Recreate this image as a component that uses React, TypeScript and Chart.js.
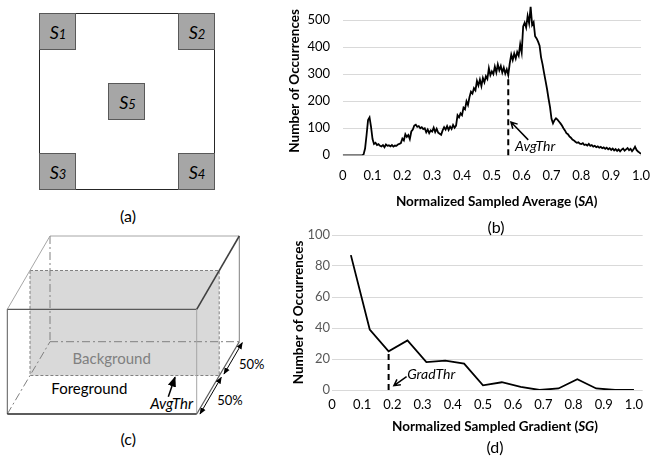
import React, { useEffect, useRef } from "react";
import { Chart, registerables } from "chart.js";
Chart.register(...registerables);

// ---------- (b) Normalized Sampled Average histogram ----------
const SA_STEP = 0.005;
const saCounts = [
  0, 0, 0, 0, 0, 0, 0, 0, 0, 0,
  0, 0, 0, 0, 3, 25, 75, 130, 140, 105,
  60, 42, 46, 38, 41, 35, 33, 38, 30, 40,
  35, 37, 33, 38, 32, 36, 35, 40, 42, 45,
  62, 55, 78, 68, 75, 60, 88, 95, 110, 113,
  105, 108, 100, 104, 97, 100, 85, 95, 82, 92,
  88, 102, 86, 98, 84, 80, 76, 92, 104, 95,
  108, 94, 106, 97, 112, 102, 110, 148, 140, 155,
  148, 176, 170, 200, 186, 215, 235, 228, 248, 240,
  275, 258, 280, 256, 286, 270, 292, 282, 322, 296,
  310, 300, 328, 306, 336, 314, 330, 306, 324, 302,
  318, 297, 340, 372, 352, 376, 358, 382, 368, 410,
  380, 476, 490, 472, 515, 488, 550, 482, 492, 440,
  432, 420, 405, 362, 336, 305, 275, 245, 210, 178,
  135, 118, 130, 137, 132, 125, 118, 110, 100, 92,
  82, 78, 70, 65, 58, 55, 50, 46, 48, 43,
  42, 45, 38, 40, 36, 42, 35, 38, 32, 35,
  30, 33, 28, 31, 26, 29, 24, 28, 22, 26,
  20, 25, 18, 23, 16, 22, 15, 21, 25, 17,
  22, 27, 19, 24, 15, 22, 32, 20, 14, 10,
  5,
];
const saX = saCounts.map((_, i) => Math.round(i * SA_STEP * 1000) / 1000);
const AVG_THR = 0.555;
const AVG_THR_COUNT = 297;
const SA_Y_MAX = 550;
const SA_Y_TICKS = [0, 100, 200, 300, 400, 500];
const X_TICKS = [0, 0.1, 0.2, 0.3, 0.4, 0.5, 0.6, 0.7, 0.8, 0.9, 1.0];
const X_TICK_LABELS = ["0", "0.1", "0.2", "0.3", "0.4", "0.5", "0.6", "0.7", "0.8", "0.9", "1.0"];

// ---------- (d) Normalized Sampled Gradient histogram ----------
const sgX = [0.0625, 0.125, 0.1875, 0.25, 0.3125, 0.375, 0.4375, 0.5, 0.5625, 0.625, 0.6875, 0.75, 0.8125, 0.875, 0.9375, 1.0];
const sgCounts = [87, 39, 25, 32, 18, 19, 17, 3, 5, 2, 0, 1, 7, 1, 0, 0];
const GRAD_THR = 0.1875;
const GRAD_THR_COUNT = 25;
const SG_Y_MAX = 100;
const SG_Y_TICKS = [0, 20, 40, 60, 80, 100];

const FONT = "Lato, 'Open Sans', sans-serif";
const TICK_SIZE = 13;
const TITLE_SIZE = 13.5;

type Ann = {
  thr: number; count: number;
  tail: [number, number]; tip: [number, number];
  label: string; labelAt: [number, number];
};

function thresholdPlugin(id: string, a: Ann) {
  return {
    id,
    afterDatasetsDraw(chart: any) {
      const { ctx, scales } = chart;
      const x = scales.x, y = scales.y;
      ctx.save();
      ctx.strokeStyle = "#000";
      ctx.lineWidth = 2;
      ctx.setLineDash([6, 4]);
      const tx = x.getPixelForValue(a.thr);
      ctx.beginPath();
      ctx.moveTo(tx, y.getPixelForValue(0));
      ctx.lineTo(tx, y.getPixelForValue(a.count));
      ctx.stroke();
      ctx.setLineDash([]);
      const x1 = x.getPixelForValue(a.tail[0]), y1 = y.getPixelForValue(a.tail[1]);
      const x2 = x.getPixelForValue(a.tip[0]), y2 = y.getPixelForValue(a.tip[1]);
      ctx.lineWidth = 1.5;
      ctx.beginPath();
      ctx.moveTo(x1, y1);
      ctx.lineTo(x2, y2);
      const ang = Math.atan2(y2 - y1, x2 - x1);
      const L = 7;
      ctx.moveTo(x2 - L * Math.cos(ang - 0.5), y2 - L * Math.sin(ang - 0.5));
      ctx.lineTo(x2, y2);
      ctx.lineTo(x2 - L * Math.cos(ang + 0.5), y2 - L * Math.sin(ang + 0.5));
      ctx.stroke();
      ctx.font = `italic 14px ${FONT}`;
      ctx.fillStyle = "#000";
      ctx.textAlign = "left";
      ctx.textBaseline = "middle";
      ctx.fillText(a.label, x.getPixelForValue(a.labelAt[0]), y.getPixelForValue(a.labelAt[1]));
      ctx.restore();
    },
  };
}

const setTicks = (vals: number[]) => (s: any) => { s.ticks = vals.map((value) => ({ value })); };
const xLabel = (v: any) => {
  const i = X_TICKS.findIndex((t) => Math.abs(t - Number(v)) < 1e-6);
  return i >= 0 ? X_TICK_LABELS[i] : "";
};

function App() {
  const refB = useRef<HTMLCanvasElement>(null);
  const refD = useRef<HTMLCanvasElement>(null);

  useEffect(() => {
    const chartB = new Chart(refB.current as HTMLCanvasElement, {
      type: "line",
      data: {
        datasets: [{
          data: saX.map((x, i) => ({ x, y: saCounts[i] })),
          borderColor: "#000", borderWidth: 1.8, pointRadius: 0, tension: 0, fill: false,
        }],
      },
      options: {
        animation: false, responsive: false, maintainAspectRatio: false,
        layout: { padding: { left: 0, right: 10, top: 6.5, bottom: 0 } },
        plugins: { legend: { display: false }, tooltip: { enabled: false } },
        scales: {
          x: {
            type: "linear", min: 0, max: 1,
            grid: { display: false, drawTicks: false }, border: { display: false },
            ticks: { autoSkip: false, maxRotation: 0, padding: 12.9, color: "#000", font: { family: FONT, size: TICK_SIZE }, callback: xLabel },
            afterBuildTicks: setTicks(X_TICKS),
            afterFit: (s: any) => { s.height = 79.7; s.paddingLeft = 0; s.paddingRight = 0; },
          },
          y: {
            min: 0, max: SA_Y_MAX,
            grid: { color: "#d9d9d9", drawTicks: false, lineWidth: 1 }, border: { display: false },
            ticks: { padding: 12.7, color: "#000", font: { family: FONT, size: TICK_SIZE } },
            afterBuildTicks: setTicks(SA_Y_TICKS),
            title: { display: true, text: "Number of Occurrences", color: "#000", font: { family: FONT, size: TITLE_SIZE, weight: "bold" }, padding: { top: 6.9, bottom: 0 } },
            afterFit: (s: any) => { s.width = 62.7; s.paddingTop = 0; s.paddingBottom = 0; },
          },
        },
      },
      plugins: [thresholdPlugin("avgthr", {
        thr: AVG_THR, count: AVG_THR_COUNT,
        tail: [0.622, 57], tip: [0.564, 123],
        label: "AvgThr", labelAt: [0.578, 32],
      })],
    } as any);

    const chartD = new Chart(refD.current as HTMLCanvasElement, {
      type: "line",
      data: {
        datasets: [{
          data: sgX.map((x, i) => ({ x, y: sgCounts[i] })),
          borderColor: "#000", borderWidth: 1.8, pointRadius: 0, tension: 0, fill: false,
        }],
      },
      options: {
        animation: false, responsive: false, maintainAspectRatio: false,
        layout: { padding: { left: 0, right: 8.3, top: 10, bottom: 0 } },
        plugins: { legend: { display: false }, tooltip: { enabled: false } },
        scales: {
          x: {
            type: "linear", min: 0, max: 1.029,
            grid: { display: false, drawTicks: false }, border: { display: false },
            ticks: { autoSkip: false, maxRotation: 0, padding: 7.2, color: "#000", font: { family: FONT, size: TICK_SIZE }, callback: xLabel },
            afterBuildTicks: setTicks(X_TICKS),
            afterFit: (s: any) => { s.height = 67; s.paddingLeft = 0; s.paddingRight = 0; },
          },
          y: {
            min: 0, max: SG_Y_MAX,
            grid: { color: "#d9d9d9", drawTicks: false, lineWidth: 1 }, border: { display: false },
            ticks: { padding: 2, color: "#595959", font: { family: FONT, size: TICK_SIZE } },
            afterBuildTicks: setTicks(SG_Y_TICKS),
            title: { display: true, text: "Number of Occurrences", color: "#000", font: { family: FONT, size: TITLE_SIZE, weight: "bold" }, padding: { top: 10.2, bottom: 0 } },
            afterFit: (s: any) => { s.width = 52; s.paddingTop = 0; s.paddingBottom = 0; },
          },
        },
      },
      plugins: [thresholdPlugin("gradthr", {
        thr: GRAD_THR, count: GRAD_THR_COUNT,
        tail: [0.247, 8.6], tip: [0.205, 2.8],
        label: "GradThr", labelAt: [0.249, 9.7],
      })],
    } as any);

    return () => { chartB.destroy(); chartD.destroy(); };
  }, []);

  const abs = (l: number, t: number, w: number, h: number): React.CSSProperties => ({ position: "absolute", left: l, top: t, width: w, height: h });
  const lbl = (cx: number, cy: number, size: number, bold = false): React.CSSProperties => ({
    position: "absolute", left: cx - 150, top: cy - size * 0.6, width: 300, textAlign: "center",
    fontFamily: FONT, fontSize: size, lineHeight: `${size * 1.2}px`, fontWeight: bold ? "bold" : "normal", color: "#000", whiteSpace: "nowrap",
  });

  const sq = (x: number, y: number) => <rect x={x} y={y} width={36} height={36} fill="#a6a6a6" stroke="#595959" strokeWidth={1} />;
  const sLabel = (cx: number, baseY: number, n: string) => (
    <text x={cx} y={baseY} textAnchor="middle" fontFamily={FONT} fontStyle="italic" fontSize={18} fill="#000">
      S<tspan fontSize={13}>{n}</tspan>
    </text>
  );
  const dashDot = "8 3 2 3";

  return (
    <div style={{ position: "absolute", left: 0, top: 0, width: 651, height: 457, background: "#fff", overflow: "hidden" }}>
      <svg width={280} height={457} style={{ position: "absolute", left: 0, top: 0 }}>
        <defs>
          <marker id="ah" viewBox="0 0 10 10" refX="9" refY="5" markerWidth="7" markerHeight="7" orient="auto-start-reverse">
            <path d="M0,1 L10,5 L0,9 z" fill="#000" />
          </marker>
        </defs>
        {/* (a) */}
        <rect x={39.5} y={13.5} width={175} height={176} fill="#fff" stroke="#262626" strokeWidth={1} />
        {sq(39.5, 13.5)}{sq(178.5, 13.5)}{sq(39.5, 153.5)}{sq(178.5, 153.5)}{sq(108.5, 83.5)}
        {sLabel(58, 38.5, "1")}{sLabel(197, 38.5, "2")}{sLabel(58, 178.5, "3")}{sLabel(197, 178.5, "4")}{sLabel(127.5, 108.5, "5")}
        <text x={128} y={215} textAnchor="middle" dominantBaseline="central" fontFamily={FONT} fontSize={16} fill="#000">(a)</text>

        {/* (c) */}
        <rect x={30} y={270.5} width={189.2} height={105} fill="#d9d9d9" stroke="#808080" strokeWidth={1} strokeDasharray="3 2" />
        <line x1={50} y1={236} x2={239.3} y2={236} stroke="#a6a6a6" strokeWidth={1} />
        <line x1={239.3} y1={236} x2={239.3} y2={341.7} stroke="#808080" strokeWidth={1} />
        <line x1={50} y1={236} x2={50} y2={341.7} stroke="#808080" strokeWidth={1} strokeDasharray={dashDot} />
        <line x1={50} y1={341.7} x2={239.3} y2={341.7} stroke="#808080" strokeWidth={1} strokeDasharray={dashDot} />
        <line x1={7.3} y1={309.3} x2={50} y2={236} stroke="#a6a6a6" strokeWidth={1} />
        <line x1={196.7} y1={309.3} x2={239.3} y2={236} stroke="#404040" strokeWidth={1.6} />
        <line x1={196.7} y1={414} x2={239.3} y2={341.7} stroke="#595959" strokeWidth={1.2} />
        <line x1={7.3} y1={414} x2={50} y2={341.7} stroke="#808080" strokeWidth={1} strokeDasharray={dashDot} />
        <line x1={7.3} y1={309.3} x2={196.7} y2={309.3} stroke="#595959" strokeWidth={1.3} />
        <line x1={7.3} y1={309.3} x2={7.3} y2={414} stroke="#595959" strokeWidth={1} />
        <line x1={196.7} y1={309.3} x2={196.7} y2={414} stroke="#a6a6a6" strokeWidth={1} />
        <line x1={7.3} y1={414} x2={196.7} y2={414} stroke="#262626" strokeWidth={1.3} />
        <text x={111.7} y={358.3} textAnchor="middle" dominantBaseline="central" fontFamily={FONT} fontSize={15} fill="#808080">Background</text>
        <text x={89.3} y={388.3} textAnchor="middle" dominantBaseline="central" fontFamily={FONT} fontSize={15} fill="#000">Foreground</text>
        <text x={171.7} y={402.7} textAnchor="middle" dominantBaseline="central" fontFamily={FONT} fontStyle="italic" fontSize={15} fill="#000">AvgThr</text>
        <line x1={168.3} y1={396.7} x2={175} y2={377.3} stroke="#000" strokeWidth={1.5} markerEnd="url(#ah)" />
        <line x1={200} y1={414} x2={221.3} y2={377.3} stroke="#000" strokeWidth={1} markerStart="url(#ah)" markerEnd="url(#ah)" />
        <line x1={224} y1={374} x2={242.3} y2={342.7} stroke="#000" strokeWidth={1} markerStart="url(#ah)" markerEnd="url(#ah)" />
        <text x={251.7} y={364.3} textAnchor="middle" dominantBaseline="central" fontFamily={FONT} fontSize={13} fill="#000">50%</text>
        <text x={230} y={400.3} textAnchor="middle" dominantBaseline="central" fontFamily={FONT} fontSize={13} fill="#000">50%</text>
        <text x={128.3} y={438.3} textAnchor="middle" dominantBaseline="central" fontFamily={FONT} fontSize={16} fill="#000">(c)</text>
      </svg>

      <canvas ref={refB} width={371} height={235} style={abs(280, 0, 371, 235)} />
      <canvas ref={refD} width={371} height={232} style={abs(280, 225, 371, 232)} />

      <div style={lbl(496.7, 201.3, TITLE_SIZE, true)}>Normalized Sampled Average (<i>SA</i>)</div>
      <div style={lbl(496, 226.7, 16)}>(b)</div>
      <div style={lbl(495, 425.7, TITLE_SIZE, true)}>Normalized Sampled Gradient (<i>SG</i>)</div>
      <div style={lbl(495, 446.7, 16)}>(d)</div>
    </div>
  );
}

export default App;
